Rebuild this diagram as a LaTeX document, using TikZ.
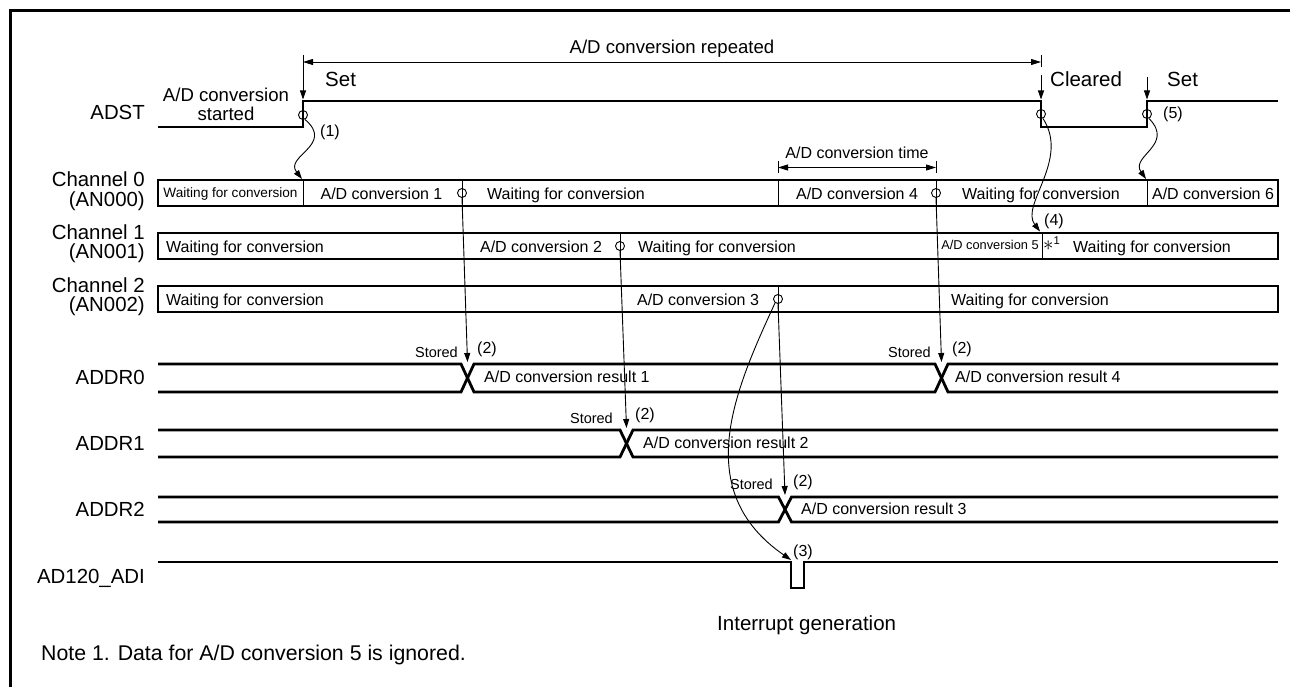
\documentclass[tikz,border=0pt]{standalone}
\usepackage{fontspec}
\setmainfont{Liberation Sans}
\usetikzlibrary{arrows.meta}
\begin{document}
\begin{tikzpicture}[x=1pt,y=-1pt,
  sig/.style={line width=2.8pt, line join=miter},
  boxl/.style={line width=2.8pt},
  thn/.style={line width=0.9pt},
  tip/.style={line width=0.9pt, -{Triangle[length=9pt,width=6pt]}},
  dim/.style={line width=0.8pt, {Triangle[length=10pt,width=6pt]}-{Triangle[length=10pt,width=6pt]}},
  ring/.style={circle, draw, line width=0.9pt, minimum size=9pt, inner sep=0pt},
  t/.style={inner sep=0pt, anchor=base},
  lab/.style={inner sep=0pt, anchor=base east, font=\fontsize{20.4}{22}\selectfont},
  ann/.style={font=\fontsize{18.6}{20}\selectfont},
  big/.style={font=\fontsize{20.5}{22}\selectfont},
  std/.style={font=\fontsize{16}{18}\selectfont},
  sto/.style={font=\fontsize{14.5}{16}\selectfont},
  sml/.style={font=\fontsize{13.6}{15}\selectfont},
  sml2/.style={font=\fontsize{12.8}{14}\selectfont}
]
\useasboundingbox (0,0) rectangle (1290,687);
% frame
\draw[line width=3pt] (10,687) -- (10,11) -- (1290,11);

% ---------- left labels
\node[lab] (lADST) at (145,120) {ADST};
\node[lab] (lc0a) at (145,187) {Channel 0};
\node[lab] (lc0b) at (145,206.5) {(AN000)};
\node[lab] (lc1a) at (145,239) {Channel 1};
\node[lab] (lc1b) at (145,258.5) {(AN001)};
\node[lab] (lc2a) at (145,292) {Channel 2};
\node[lab] (lc2b) at (145,311.5) {(AN002)};
\node[lab] (lA0) at (145,384) {ADDR0};
\node[lab] (lA1) at (145,450) {ADDR1};
\node[lab] (lA2) at (145,516.5) {ADDR2};
\node[lab] (lADI) at (145,583) {AD120\_ADI};

% ---------- ADST
\draw[sig] (158,127) -- (303,127) -- (303,101) -- (1041,101) -- (1041,127) -- (1147,127) -- (1147,101) -- (1278,101);
\node[ring] (r0) at (303,115) {};
\node[ring] (rC) at (1041,114) {};
\node[ring] (rS) at (1147,114) {};
\node[t,ann] (started1) at (226,101.5) {A/D conversion};
\node[t,ann] (started2) at (226,120.5) {started};

% repeated dimension
\coordinate (rpL) at (303,62);
\coordinate (rpR) at (1041,62);
\draw[thn] (303,55) -- (303,67);
\draw[thn] (1041,55) -- (1041,67);
\draw[dim] (rpL) -- (rpR);
\node[t,ann] (rep) at (672,53.5) {A/D conversion repeated};

% Set / Cleared arrows
\coordinate (s1a) at (303,67);
\coordinate (s1b) at (303,99.5);
\coordinate (cla) at (1041,75);
\coordinate (clb) at (1041,99.5);
\coordinate (s2a) at (1147,77);
\coordinate (s2b) at (1147,99.5);
\draw[tip] (s1a) -- (s1b);
\draw[tip] (cla) -- (clb);
\draw[tip] (s2a) -- (s2b);
\node[t,big,anchor=base west] (set1) at (325,86.5) {Set};
\node[t,big,anchor=base west] (clr) at (1050,87) {Cleared};
\node[t,big,anchor=base west] (set2) at (1167,87) {Set};
\node[t,std,anchor=base west] (n1) at (320,137) {(1)};
\node[t,std,anchor=base west] (n5) at (1163,119) {(5)};
\node[t,std,anchor=base west] (n4) at (1044,225.5) {(4)};

% ---------- Channel 0
\draw[boxl] (158,180) rectangle (1278,206);
\foreach \x in {303,462,778,936,1147} \draw[thn] (\x,180) -- (\x,206);
\node[ring] (e1) at (462,193) {};
\node[ring] (e4) at (936,193) {};
\node[t,sml] (w0a) at (230.5,197) {Waiting for conversion};
\node[t,std] (c1) at (381.5,200) {A/D conversion 1};
\node[t,std] (w0b) at (566,200) {Waiting for conversion};
\node[t,std] (c4) at (857,200) {A/D conversion 4};
\node[t,std] (w0c) at (1041,200) {Waiting for conversion};
\node[t,std] (c6) at (1213,200) {A/D conversion 6};

% conversion time dimension
\draw[thn] (778,161) -- (778,173);
\draw[thn] (936,161) -- (936,173);
\coordinate (ctL) at (778,167.5);
\coordinate (ctR) at (936,167.5);
\draw[dim] (ctL) -- (ctR);
\node[t,std] (ctime) at (857,159) {A/D conversion time};

% ---------- Channel 1
\draw[boxl] (158,233) rectangle (1278,259);
\draw[thn] (620,233) -- (620,259);
\draw[thn] (1042,233) -- (1042,259);
\node[ring] (e2) at (620,246) {};
\node[t,std,anchor=base west] (w1a) at (166,252.5) {Waiting for conversion};
\node[t,std] (c2) at (541,252.5) {A/D conversion 2};
\node[t,std] (w1b) at (717,252.5) {Waiting for conversion};
\node[t,sml2] (c5) at (990,249) {A/D conversion 5};
\node[t,std,anchor=base west] (ast) at (1043,251) {{\fontsize{20}{20}\selectfont$\ast$}\textsuperscript{1}};
\node[t,std] (w1c) at (1152,252.5) {Waiting for conversion};

% ---------- Channel 2
\draw[boxl] (158,286) rectangle (1278,312);
\draw[thn] (778,286) -- (778,312);
\node[ring] (e3) at (778,299) {};
\node[t,std,anchor=base west] (w2a) at (166,305.5) {Waiting for conversion};
\node[t,std] (c3) at (698,305.5) {A/D conversion 3};
\node[t,std] (w2b) at (1030,305.5) {Waiting for conversion};

% ---------- ADDR0
\draw[sig] (158,364) -- (461,364) -- (474,392) -- (935,392) -- (948,364) -- (1278,364);
\draw[sig] (158,392) -- (461,392) -- (474,364) -- (935,364) -- (948,392) -- (1278,392);
\coordinate (x1) at (467.5,362);
\coordinate (x4) at (941.5,362);
\node[t,std,anchor=base west] (res1) at (484,382) {A/D conversion result 1};
\node[t,std,anchor=base west] (res4) at (955,382) {A/D conversion result 4};
\node[t,sto,anchor=base east] (st1) at (458,357) {Stored};
\node[t,std,anchor=base west] (p1) at (477,353.5) {(2)};
\node[t,sto,anchor=base east] (st4) at (931,357) {Stored};
\node[t,std,anchor=base west] (p4) at (952,353.5) {(2)};

% ---------- ADDR1
\draw[sig] (158,430) -- (620,430) -- (633,457) -- (1278,457);
\draw[sig] (158,457) -- (620,457) -- (633,430) -- (1278,430);
\coordinate (x2) at (626.5,428);
\node[t,std,anchor=base west] (res2) at (643,448) {A/D conversion result 2};
\node[t,sto,anchor=base east] (st2) at (613,423) {Stored};
\node[t,std,anchor=base west] (p2) at (635,419.5) {(2)};

% ---------- ADDR2
\draw[sig] (158,497) -- (778.5,497) -- (791.5,522) -- (1278,522);
\draw[sig] (158,522) -- (778.5,522) -- (791.5,497) -- (1278,497);
\coordinate (x3) at (785,495);
\node[t,std,anchor=base west] (res3) at (801,514) {A/D conversion result 3};
\node[t,sto,anchor=base east] (st3) at (773,489) {Stored};
\node[t,std,anchor=base west] (p3) at (793,486) {(2)};

% ---------- AD120_ADI
\draw[sig] (158,562) -- (791,562) -- (791,588) -- (804,588) -- (804,562) -- (1278,562);
\coordinate (irq) at (791,560);
\node[t,std,anchor=base west] (n3) at (793,556) {(3)};
\node[t,big,anchor=base west] (intr) at (717,630) {Interrupt generation};

% ---------- stored arrows
\draw[tip] (e1.south) -- (x1);
\draw[tip] (e2.south) -- (x2);
\draw[tip] (e3.south) -- (x3);
\draw[tip] (e4.south) -- (x4);

% ---------- curved arrows
\coordinate (cv1s) at (305,119.5);
\coordinate (cv1e) at (302,179);
\draw[tip] (cv1s) .. controls (335,145) and (284,156) .. (cv1e);
\coordinate (cv5s) at (1149,118.5);
\coordinate (cv5e) at (1146,179);
\draw[tip] (cv5s) .. controls (1175,145) and (1130,156) .. (cv5e);
\coordinate (cv4s) at (1043,118.5);
\coordinate (cv4e) at (1040,231.5);
\draw[tip] (cv4s) .. controls (1070,160) and (1020,205) .. (cv4e);
\coordinate (cv3s) at (775,303);
\draw[tip] (cv3s) .. controls (735,390) and (690,490) .. (irq);

% ---------- note
\node[t,anchor=base west,font=\fontsize{21.3}{23}\selectfont] (note) at (41,660) {Note 1. Data for A/D conversion 5 is ignored.};
\end{tikzpicture}
\end{document}
